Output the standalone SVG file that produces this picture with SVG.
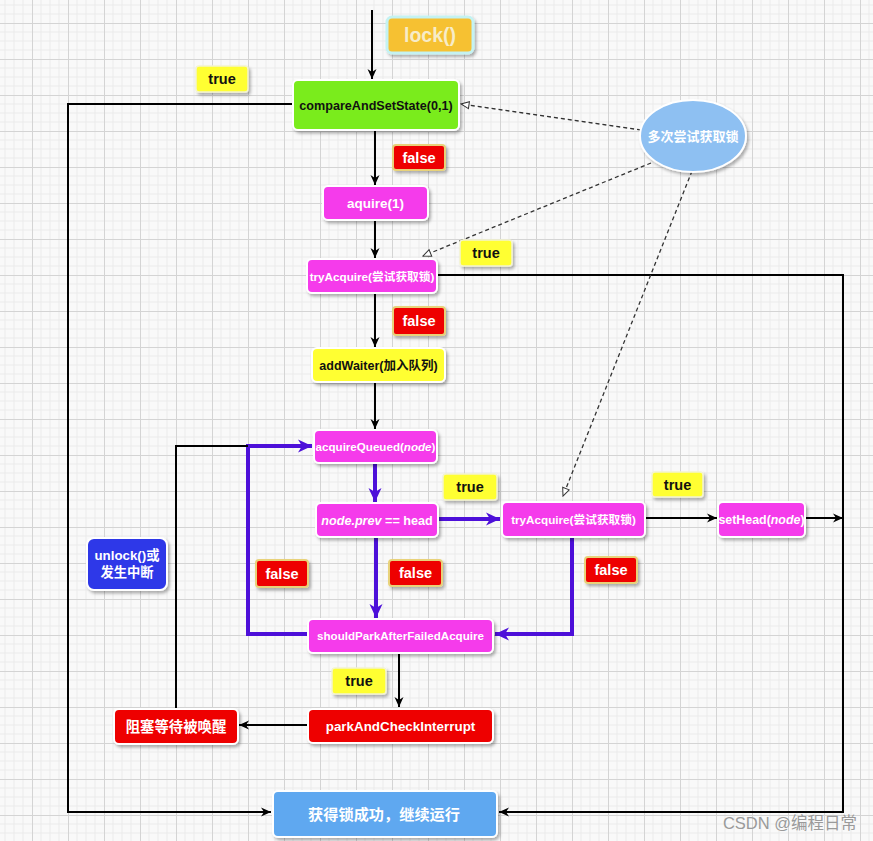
<svg xmlns="http://www.w3.org/2000/svg" width="873" height="841" viewBox="0 0 873 841">
<defs>
  <pattern id="grid" x="32" y="23" width="36" height="36" patternUnits="userSpaceOnUse">
    <path d="M9,0V36M18,0V36M27,0V36M0,9H36M0,18H36M0,27H36" stroke="#ebebeb" stroke-width="1" fill="none"/>
    <path d="M0.5,0V36M0,0.5H36" stroke="#d4d4d4" stroke-width="1" fill="none"/>
  </pattern>
  <filter id="sh" x="-20%" y="-20%" width="140%" height="150%">
    <feDropShadow dx="2" dy="2.5" stdDeviation="1.5" flood-color="#000" flood-opacity="0.3"/>
  </filter>
  <marker id="ab" markerUnits="userSpaceOnUse" markerWidth="11" markerHeight="10" refX="10" refY="5" orient="auto">
    <path d="M0,0.5 L10,5 L0,9.5 L3,5 z" fill="#000"/>
  </marker>
  <marker id="ap" markerUnits="userSpaceOnUse" markerWidth="15" markerHeight="14" refX="14" refY="7" orient="auto">
    <path d="M0,0.5 L14,7 L0,13.5 L4,7 z" fill="#4d10d9"/>
  </marker>
  <marker id="ao" markerUnits="userSpaceOnUse" markerWidth="10" markerHeight="9" refX="9" refY="4.5" orient="auto">
    <path d="M1,1 L9,4.5 L1,8 z" fill="#fff" stroke="#333" stroke-width="1"/>
  </marker>
  <style>
    text { font-family: "Liberation Sans", "Noto Sans CJK SC", Arial, sans-serif; font-weight: bold; text-anchor: middle; }
    .box { stroke: #fff; stroke-width: 2; filter: url(#sh); }
    .mag { fill: #f53aeb; }
    .red { fill: #ee0000; }
    .yel { fill: #ffff33; }
    .lblY { fill: #ffff33; stroke: #f4f4d0; stroke-width: 1.5; filter: url(#sh); }
    .lblR { fill: #ee0000; stroke: #e8d27a; stroke-width: 2; filter: url(#sh); }
    .wt { fill: #fff; }
    .bk { fill: #111; }
    .lbl { font-size: 14.5px; }
    .ln { fill: none; stroke: #000; stroke-width: 2; }
    .pl { fill: none; stroke: #4d10d9; stroke-width: 4; }
    .ds { fill: none; stroke: #333; stroke-width: 1.3; stroke-dasharray: 4 3; }
  </style>
</defs>
<rect width="873" height="841" fill="#f9f9f9"/>
<rect width="873" height="841" fill="url(#grid)"/>

<g id="connectors">
  <path class="ln" d="M372,10 V79" marker-end="url(#ab)"/>
  <path class="ln" d="M375,131 V185" marker-end="url(#ab)"/>
  <path class="ln" d="M375,221 V258" marker-end="url(#ab)"/>
  <path class="ln" d="M375,294 V347" marker-end="url(#ab)"/>
  <path class="ln" d="M375,383 V429" marker-end="url(#ab)"/>
  <path class="pl" d="M375,464 V502" marker-end="url(#ap)"/>
  <path class="pl" d="M439,519 H500" marker-end="url(#ap)"/>
  <path class="ln" d="M646,518 H717" marker-end="url(#ab)"/>
  <path class="ln" d="M806,518 H843" marker-end="url(#ab)"/>
  <path class="pl" d="M376,538 V618" marker-end="url(#ap)"/>
  <path class="pl" d="M572,538 V634 H495" marker-end="url(#ap)"/>
  <path class="pl" d="M307,634 H248 V446 H312" marker-end="url(#ap)"/>
  <path class="ln" d="M176,708 V446 H248"/>
  <path class="ln" d="M399,654 V707" marker-end="url(#ab)"/>
  <path class="ln" d="M307,725 H239" marker-end="url(#ab)"/>
  <path class="ln" d="M292,104 H68 V812 H271" marker-end="url(#ab)"/>
  <path class="ln" d="M438,275 H843 V812 H499" marker-end="url(#ab)"/>
  <path class="ds" d="M641,130 L461,104" marker-end="url(#ao)"/>
  <path class="ds" d="M651,163 L423,256" marker-end="url(#ao)"/>
  <path class="ds" d="M692,171 L563,496" marker-end="url(#ao)"/>
</g>

<g id="lock">
  <rect x="387" y="17" width="86" height="36" rx="5" fill="#f6c133" stroke="#c4f2f2" stroke-width="3" filter="url(#sh)"/>
  <text x="430" y="42" font-size="19.5" fill="#f7ecc8">lock()</text>
</g>
<g id="cas">
  <rect class="box" x="293" y="80" width="166" height="50" rx="5" fill="#7aec1a"/>
  <text class="bk" x="376" y="109.5" font-size="12.6">compareAndSetState(0,1)</text>
</g>
<g id="aquire">
  <rect class="box mag" x="323" y="186" width="105" height="34" rx="5"/>
  <text class="wt" x="375.5" y="208" font-size="13.5">aquire(1)</text>
</g>
<g id="tryAcquire1">
  <rect class="box mag" x="307" y="259" width="130" height="34" rx="5"/>
  <text class="wt" x="372" y="280.5" font-size="11.7">tryAcquire(尝试获取锁)</text>
</g>
<g id="addWaiter">
  <rect class="box yel" x="312" y="348" width="133" height="34" rx="5"/>
  <text class="bk" x="378.5" y="369.5" font-size="12.5">addWaiter(加入队列)</text>
</g>
<g id="acquireQueued">
  <rect class="box mag" x="314" y="430" width="123" height="33" rx="5"/>
  <text class="wt" x="375.5" y="450.5" font-size="11.6">acquireQueued(<tspan font-style="italic">node</tspan>)</text>
</g>
<g id="nodePrev">
  <rect class="box mag" x="316" y="503" width="122" height="34" rx="5"/>
  <text class="wt" x="377" y="524.5" font-size="12.6"><tspan font-style="italic">node.prev</tspan> == head</text>
</g>
<g id="tryAcquire2">
  <rect class="box mag" x="502" y="502" width="143" height="35" rx="5"/>
  <text class="wt" x="573.5" y="523.5" font-size="11.7">tryAcquire(尝试获取锁)</text>
</g>
<g id="setHead">
  <rect class="box mag" x="718" y="502" width="87" height="35" rx="5"/>
  <text class="wt" x="761.5" y="524" font-size="12.4">setHead(<tspan font-style="italic">node</tspan>)</text>
</g>
<g id="shouldPark">
  <rect class="box mag" x="308" y="619" width="185" height="34" rx="5"/>
  <text class="wt" x="400.5" y="640" font-size="11.6">shouldParkAfterFailedAcquire</text>
</g>
<g id="park">
  <rect class="box red" x="308" y="709" width="185" height="34" rx="5"/>
  <text class="wt" x="400.5" y="731" font-size="13.4">parkAndCheckInterrupt</text>
</g>
<g id="blocked">
  <rect class="box red" x="114" y="709" width="124" height="35" rx="5"/>
  <text class="wt" x="176" y="731.5" font-size="14.4">阻塞等待被唤醒</text>
</g>
<g id="unlock">
  <rect class="box" x="87" y="538" width="80" height="52" rx="7" fill="#2f38e8"/>
  <text class="wt" x="127" y="560" font-size="13.3">unlock()或</text>
  <text class="wt" x="127" y="577" font-size="13.3">发生中断</text>
</g>
<g id="multiTry">
  <ellipse cx="693" cy="136" rx="53" ry="36" fill="#8ec0f2" stroke="#fff" stroke-width="2" filter="url(#sh)"/>
  <text class="wt" x="693" y="141" font-size="13">多次尝试获取锁</text>
</g>
<g id="success">
  <rect class="box" x="273" y="791" width="224" height="46" rx="5" fill="#5ea8f0"/>
  <text class="wt" x="384" y="819.5" font-size="15.2">获得锁成功，继续运行</text>
</g>

<g id="labels">
  <rect class="lblY" x="196" y="66" width="52" height="26" rx="3"/>
  <text class="bk lbl" x="222" y="84">true</text>
  <rect class="lblR" x="393" y="145" width="52" height="25" rx="3"/>
  <text class="wt lbl" x="419" y="162.5">false</text>
  <rect class="lblY" x="460" y="240" width="52" height="26" rx="3"/>
  <text class="bk lbl" x="486" y="258">true</text>
  <rect class="lblR" x="393" y="307" width="52" height="28" rx="3"/>
  <text class="wt lbl" x="419" y="326">false</text>
  <rect class="lblY" x="443" y="474" width="54" height="26" rx="3"/>
  <text class="bk lbl" x="470" y="492">true</text>
  <rect class="lblY" x="652" y="472" width="51" height="25" rx="3"/>
  <text class="bk lbl" x="677.5" y="489.5">true</text>
  <rect class="lblR" x="256" y="560" width="52" height="27" rx="3"/>
  <text class="wt lbl" x="282" y="578.5">false</text>
  <rect class="lblR" x="389" y="560" width="53" height="26" rx="3"/>
  <text class="wt lbl" x="415.5" y="578">false</text>
  <rect class="lblR" x="585" y="557" width="52" height="26" rx="3"/>
  <text class="wt lbl" x="611" y="575">false</text>
  <rect class="lblY" x="332" y="668" width="54" height="26" rx="3"/>
  <text class="bk lbl" x="359" y="686">true</text>
</g>

<text x="790" y="829" font-size="16.5" font-weight="normal" fill="#9a9a9a" style="font-weight:normal">CSDN @编程日常</text>
</svg>
